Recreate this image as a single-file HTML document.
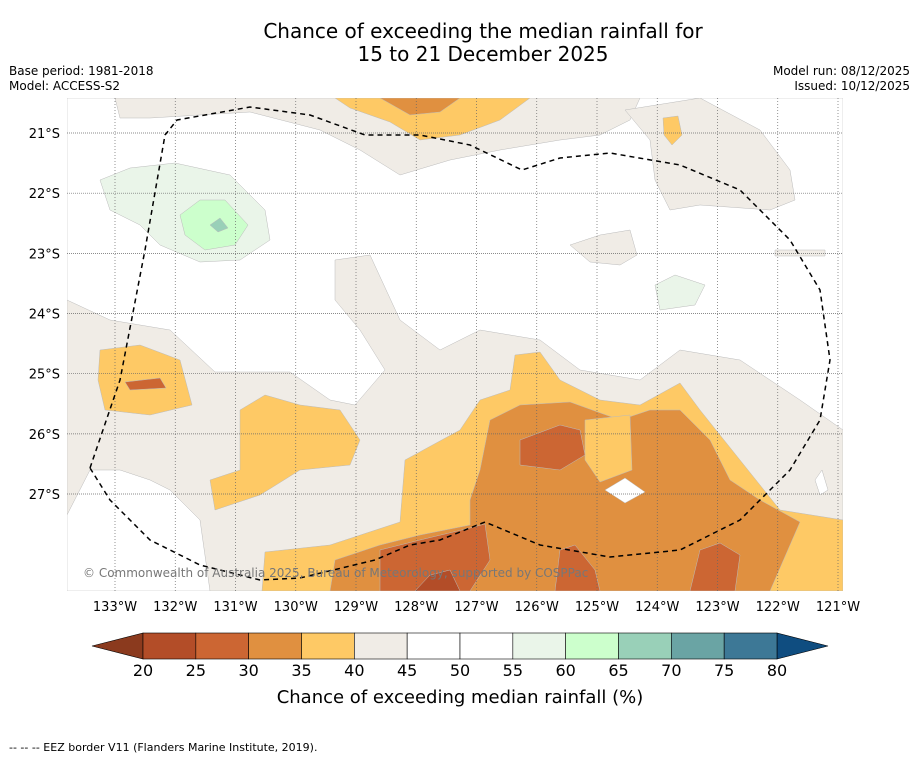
<!DOCTYPE html>
<html><head><meta charset="utf-8"><style>
body{margin:0;background:#fff;font-family:"Liberation Sans","DejaVu Sans",sans-serif}
svg text{font-family:"DejaVu Sans","Liberation Sans",sans-serif}
</style></head><body>
<svg width="919" height="758" xmlns="http://www.w3.org/2000/svg">
<rect width="919" height="758" fill="#fff"/>
<text x="483" y="38" font-size="20" text-anchor="middle">Chance of exceeding the median rainfall for</text>
<text x="483" y="61" font-size="20" text-anchor="middle">15 to 21 December 2025</text>
<text x="9" y="75" font-size="12">Base period: 1981-2018</text>
<text x="9" y="90" font-size="12">Model: ACCESS-S2</text>
<text x="910" y="75" font-size="12" text-anchor="end">Model run: 08/12/2025</text>
<text x="910" y="90" font-size="12" text-anchor="end">Issued: 10/12/2025</text>
<defs><clipPath id="mc"><rect x="67" y="98" width="776" height="493"/></clipPath></defs>
<g clip-path="url(#mc)" stroke="#bbb" stroke-width="0.5">
<rect x="67" y="98" width="776" height="493" fill="#fff"/>
<path fill="#f0ece6" d="M67,300 L110,320 170,330 215,372 290,372 330,400 355,405 385,370 360,330 335,300 335,260 370,255 400,320 440,350 480,330 540,340 580,370 640,380 680,350 740,360 800,400 843,430 843,591 67,591Z"/>
<path fill="#fff" d="M67,515 L90,470 120,470 150,480 170,490 200,520 210,591 67,591Z"/>
<path fill="#f0ece6" d="M115,98 L640,98 630,120 600,135 560,140 500,150 450,160 400,175 360,150 320,130 250,112 150,118 120,118Z"/>
<path fill="#f0ece6" d="M625,110 L700,98 760,130 790,170 795,200 770,210 700,205 670,210 655,180 650,140Z"/>
<path fill="#f0ece6" d="M570,245 L600,235 630,230 637,255 620,265 590,262Z"/>
<path fill="#f0ece6" d="M775,250 L825,250 825,256 775,256Z"/>
<path fill="#eaf5e9" d="M100,180 L130,168 175,163 230,175 265,210 270,240 240,260 200,262 160,245 140,225 110,210Z"/>
<path fill="#ccffcc" d="M180,215 L200,200 225,200 248,225 235,245 205,250 185,235Z"/>
<path fill="#99d0b8" d="M210,225 L220,218 228,228 218,232Z"/>
<path fill="#eaf5e9" d="M655,285 L675,275 705,285 695,305 660,310Z"/>
<path fill="#fec965" d="M335,98 L530,98 500,120 460,135 420,140 390,122 350,108Z"/>
<path fill="#e09040" d="M380,98 L460,98 440,112 410,115Z"/>
<path fill="#fec965" d="M663,118 L678,116 682,135 672,145 664,135Z"/>
<path fill="#fec965" d="M100,350 L140,345 180,360 192,405 150,415 105,410 98,380Z"/>
<path fill="#cc6633" d="M125,382 L160,378 166,388 130,390Z"/>
<path fill="#fec965" d="M240,410 L265,395 300,405 340,410 360,440 350,465 300,470 260,495 215,510 210,480 240,470 240,440Z"/>
<path fill="#fec965" d="M262,591 L265,552 330,545 400,522 405,460 460,430 480,400 510,390 515,355 540,352 560,380 600,400 640,405 680,383 700,410 740,460 780,510 843,520 843,591Z"/>
<path fill="#e09040" d="M330,591 L335,560 380,545 420,535 470,525 470,500 480,470 490,420 520,405 570,402 620,420 650,410 680,410 710,440 730,480 760,500 800,522 770,591Z"/>
<path fill="#fec965" d="M585,420 L630,415 632,470 600,482 585,460Z"/>
<path fill="#fff" d="M605,490 L625,478 645,492 625,503Z"/>
<path fill="#cc6633" d="M520,440 L560,425 580,430 585,455 560,470 520,465Z"/>
<path fill="#cc6633" d="M380,591 L380,550 420,540 470,528 485,524 490,560 470,591Z"/>
<path fill="#cc6633" d="M555,591 L560,550 575,545 595,570 600,591Z"/>
<path fill="#cc6633" d="M690,591 L700,550 720,543 740,555 735,591Z"/>
<path fill="#b34d28" d="M415,591 L430,575 450,570 460,591Z"/>
<path fill="#fff" d="M815,480 L822,470 828,490 820,495Z"/>
</g>
<g id="grid"></g>
<path fill="none" stroke="#000" stroke-width="1.5" stroke-dasharray="5,4" d="M90,468 L120,380 145,250 165,135 177,120 250,107 310,115 365,135 420,135 470,145 522,170 560,158 610,153 680,165 740,190 790,240 820,290 830,360 820,420 790,470 740,520 680,550 610,557 540,545 485,522 440,540 410,545 375,560 300,578 260,580 200,565 150,540 110,500 90,468"/>
<text x="83" y="577" font-size="12" fill="#777">© Commonwealth of Australia 2025, Bureau of Meteorology, supported by COSPPac</text>
<g id="cbar"></g>
<text x="460" y="703" font-size="18" text-anchor="middle">Chance of exceeding median rainfall (%)</text>
<text x="9" y="751" font-size="11">--  --  -- EEZ border V11 (Flanders Marine Institute, 2019).</text>
</svg>
<script>
const lonLabels=[133,132,131,130,129,128,127,126,125,124,123,122,121];
const latLabels=[21,22,23,24,25,26,27];
const cbTicks=[20,25,30,35,40,45,50,55,60,65,70,75,80];
const cbColors=["#b34d28","#cc6633","#e09040","#fec965","#f0ece6","#ffffff","#ffffff","#eaf5e9","#ccffcc","#99d0b8","#6aa4a4","#3d7896"];
const NS="http://www.w3.org/2000/svg";
const xLon=l=>115+(133-l)*60.25;
const yLat=l=>133+(l-21)*60.17;
const xCb=v=>143+(v-20)*(634/60);
function mk(t,a,p){const e=document.createElementNS(NS,t);for(const k in a)e.setAttribute(k,a[k]);p.appendChild(e);return e;}
const g=document.getElementById('grid');
lonLabels.forEach(l=>{const x=xLon(l);
const ln=mk('line',{x1:x,x2:x,y1:98,y2:591,stroke:'#666','stroke-width':0.7,'stroke-dasharray':'1,2'},g);


const t=mk('text',{x:x,y:611,'font-size':13,'text-anchor':'middle'},g);t.textContent=l+'°W';

});
latLabels.forEach(l=>{const y=yLat(l);
const ln=mk('line',{x1:67,x2:843,y1:y,y2:y,stroke:'#666','stroke-width':0.7,'stroke-dasharray':'1,1'},g);


const t=mk('text',{x:60,y:y+5,'font-size':13,'text-anchor':'end'},g);t.textContent=l+'°S';

});
const c=document.getElementById('cbar');
const lt=mk('polygon',{points:`${xCb(20)},633 ${xCb(20)},659 92,646`,fill:'#8b3a1e',stroke:'#000','stroke-width':0.6},c);


const rt=mk('polygon',{points:`${xCb(80)},633 ${xCb(80)},659 828,646`,fill:'#0f4d80',stroke:'#000','stroke-width':0.6},c);


cbColors.forEach((col,i)=>{const x0=xCb(cbTicks[i]),x1=xCb(cbTicks[i+1]);
const r=mk('rect',{x:x0,y:633,width:x1-x0,height:26,fill:col,stroke:'#000','stroke-width':0.6},c);

});
cbTicks.forEach(v=>{const t=mk('text',{x:xCb(v),y:676,'font-size':16,'text-anchor':'middle'},c);t.textContent=v;

});
</script>
</body></html>
